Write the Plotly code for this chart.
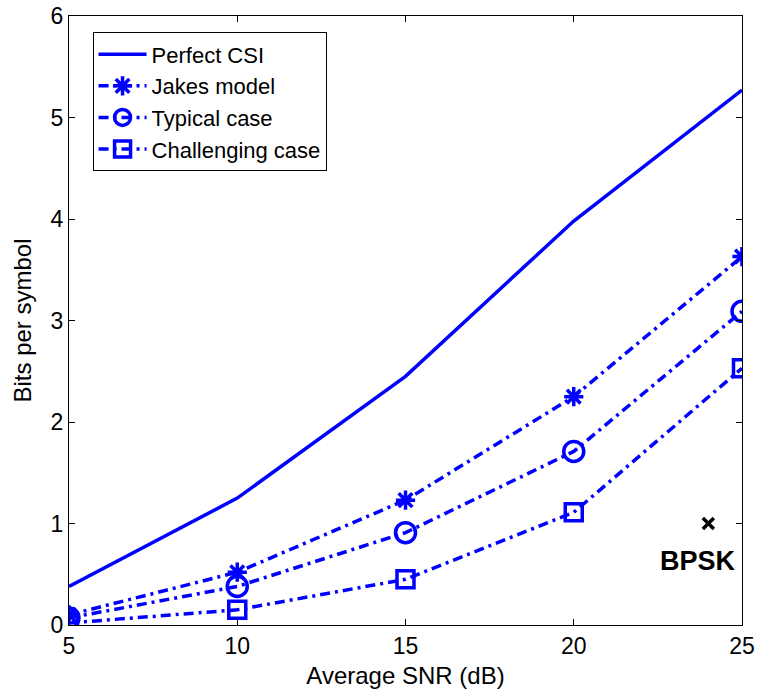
import plotly.graph_objects as go

snr = [5, 10, 15, 20, 25]
perfect_csi = [0.38, 1.25, 2.45, 3.98, 5.27]
jakes = [0.10, 0.52, 1.23, 2.25, 3.63]
typical = [0.07, 0.38, 0.91, 1.71, 3.09]
challenging = [0.02, 0.15, 0.45, 1.11, 2.53]
bpsk_x = [24]
bpsk_y = [1]

blue = "#0000ff"
dash = "10px,5px,3px,5px"
font = "Liberation Sans, Arial, sans-serif"

fig = go.Figure()
fig.add_trace(go.Scatter(x=snr, y=perfect_csi, mode="lines", name="Perfect CSI",
                         line=dict(color=blue, width=3.5)))
fig.add_trace(go.Scatter(x=snr, y=jakes, mode="lines+markers", name="Jakes model",
                         line=dict(color=blue, width=3.5, dash=dash),
                         marker=dict(symbol="asterisk-open", size=16, color=blue,
                                     line=dict(color=blue, width=3.5))))
fig.add_trace(go.Scatter(x=snr, y=typical, mode="lines+markers", name="Typical case",
                         line=dict(color=blue, width=3.5, dash=dash),
                         marker=dict(symbol="circle-open", size=20, color=blue,
                                     line=dict(color=blue, width=3.5))))
fig.add_trace(go.Scatter(x=snr, y=challenging, mode="lines+markers", name="Challenging case",
                         line=dict(color=blue, width=3.5, dash=dash),
                         marker=dict(symbol="square-open", size=17, color=blue,
                                     line=dict(color=blue, width=3.5))))
fig.add_trace(go.Scatter(x=bpsk_x, y=bpsk_y, mode="markers", showlegend=False,
                         marker=dict(symbol="x-thin-open", size=11, color="black",
                                     line=dict(color="black", width=3.5))))
fig.add_annotation(x=bpsk_x[0], y=bpsk_y[0], text="<b>BPSK</b>", showarrow=False,
                   xanchor="center", yanchor="top", yshift=-20, xshift=-10,
                   font=dict(family=font, size=27, color="black"))

axis_common = dict(showgrid=False, zeroline=False, showline=True, linecolor="black",
                   linewidth=1, mirror="ticks", ticks="inside", ticklen=6,
                   tickcolor="black", automargin=False,
                   tickfont=dict(family=font, size=23, color="black"))

fig.update_layout(
    width=758, height=700,
    margin=dict(l=69, r=16, t=16, b=75),
    plot_bgcolor="white", paper_bgcolor="white",
    font=dict(family=font, size=24, color="black"),
    xaxis=dict(range=[5, 25], tickvals=[5, 10, 15, 20, 25], **axis_common,
               title=dict(text="Average SNR (dB)", font=dict(family=font, size=24), standoff=9)),
    yaxis=dict(range=[0, 6], tickvals=[0, 1, 2, 3, 4, 5, 6], **axis_common,
               title=dict(text="Bits per symbol", font=dict(family=font, size=24), standoff=12)),
    legend=dict(x=0.035, y=0.973, xanchor="left", yanchor="top",
                bgcolor="white", bordercolor="black", borderwidth=1,
                font=dict(family=font, size=22, color="black"),
                itemwidth=48, tracegroupgap=0),
)

fig.write_html("out.html")
